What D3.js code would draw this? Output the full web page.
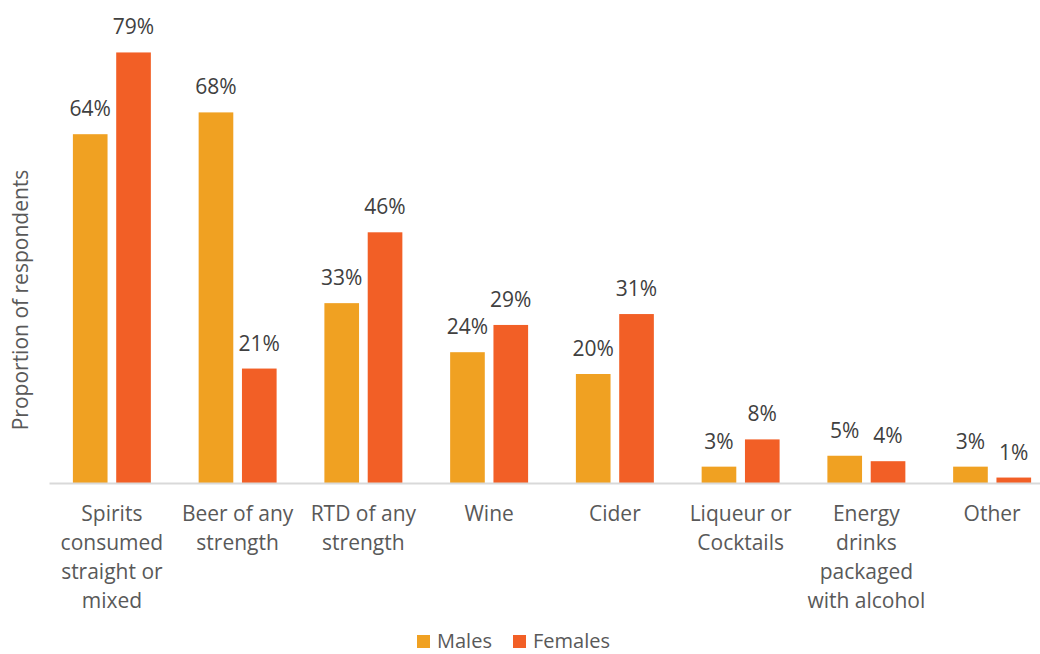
<!DOCTYPE html>
<html>
<head>
<meta charset="utf-8">
<script src="https://cdn.jsdelivr.net/npm/d3@7"></script>
<style>
  body { margin: 0; background: #fff; }
  text { font-family: "Open Sans", sans-serif; }
</style>
</head>
<body>
<div id="chart"></div>
<script>
//Datos
const categories = [
    ['Spirits', 'consumed', 'straight or', 'mixed'],
    ['Beer of any', 'strength'],
    ['RTD of any', 'strength'],
    ['Wine'],
    ['Cider'],
    ['Liqueur or', 'Cocktails'],
    ['Energy', 'drinks', 'packaged', 'with alcohol'],
    ['Other']
];
const males = [64, 68, 33, 24, 20, 3, 5, 3];
const females = [79, 21, 46, 29, 31, 8, 4, 1];
const seriesNames = ['Males', 'Females'];

//Colores
const COLOR_MALES = '#F0A122',
    COLOR_FEMALES = '#F25F26',
    COLOR_TEXT = '#595959',
    COLOR_LABEL = '#404040';

const width = 1040, height = 654;

let svg = d3.select('#chart')
    .append('svg')
    .attr('width', width)
    .attr('height', height);

let keys = categories.map(function(d, i) { return i; });

let x0 = d3.scaleBand()
    .domain(keys)
    .range([49, 1055])
    .paddingInner(0.38)
    .paddingOuter(0.19);

let x1 = d3.scaleBand()
    .domain([0, 1])
    .range([0, x0.bandwidth()])
    .paddingInner(0.2)
    .paddingOuter(0);

let y = d3.scaleLinear()
    .domain([0, 80])
    .range([483, 47]);

let color = d3.scaleOrdinal().domain([0, 1]).range([COLOR_MALES, COLOR_FEMALES]);

let data = keys.map(function(i) { return [males[i], females[i]]; });

//Barras
let groups = svg.append('g')
    .selectAll('g')
    .data(data)
    .enter()
    .append('g')
    .attr('transform', function(d, i) { return 'translate(' + x0(i) + ',0)'; });

groups.selectAll('rect')
    .data(function(d) { return d; })
    .enter()
    .append('rect')
    .attr('x', function(d, j) { return x1(j); })
    .attr('y', function(d) { return y(d); })
    .attr('width', x1.bandwidth())
    .attr('height', function(d) { return y(0) - y(d); })
    .attr('fill', function(d, j) { return color(j); });

groups.selectAll('text')
    .data(function(d) { return d; })
    .enter()
    .append('text')
    .attr('x', function(d, j) { return x1(j) + x1.bandwidth() / 2; })
    .attr('y', function(d) { return y(d) - 18; })
    .attr('text-anchor', 'middle')
    .attr('font-size', '21px')
    .attr('fill', COLOR_LABEL)
    .text(function(d) { return d + '%'; });

//Eje X
let xAxis = d3.axisBottom(x0).tickSize(0).tickFormat('');
let axisG = svg.append('g')
    .attr('transform', 'translate(0,' + y(0) + ')')
    .call(xAxis);
axisG.select('.domain').attr('stroke', '#D9D9D9').attr('stroke-width', 2);

let catLabels = svg.append('g')
    .selectAll('text')
    .data(categories)
    .enter()
    .append('text')
    .attr('x', function(d, i) { return x0(i) + x0.bandwidth() / 2; })
    .attr('y', 521)
    .attr('text-anchor', 'middle')
    .attr('font-size', '21px')
    .attr('fill', COLOR_TEXT);

catLabels.selectAll('tspan')
    .data(function(d) { return d; })
    .enter()
    .append('tspan')
    .attr('x', function() { return d3.select(this.parentNode).attr('x'); })
    .attr('dy', function(d, i) { return i === 0 ? 0 : 29; })
    .text(function(d) { return d; });

//Título eje Y
svg.append('text')
    .attr('transform', 'translate(28,300) rotate(-90)')
    .attr('text-anchor', 'middle')
    .attr('font-size', '21px')
    .attr('fill', COLOR_TEXT)
    .text('Proportion of respondents');

//Leyenda
let legendX = [417, 513];
let legend = svg.append('g')
    .selectAll('g')
    .data(seriesNames)
    .enter()
    .append('g')
    .attr('transform', function(d, i) { return 'translate(' + legendX[i] + ',635)'; });

legend.append('rect')
    .attr('width', 13)
    .attr('height', 13)
    .attr('fill', function(d, i) { return color(i); });

legend.append('text')
    .attr('x', 20)
    .attr('y', 13)
    .attr('font-size', '20px')
    .attr('fill', COLOR_TEXT)
    .text(function(d) { return d; });
</script>
</body>
</html>
